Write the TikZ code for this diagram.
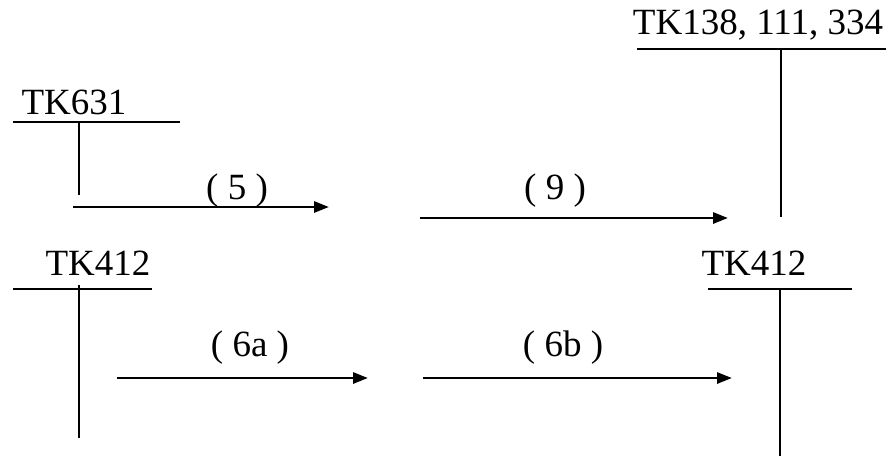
\documentclass[tikz,border=0pt]{standalone}
\usepackage{fontspec}
\setmainfont{Liberation Serif}
\usetikzlibrary{arrows.meta}
\begin{document}
\begin{tikzpicture}[x=1pt,y=-1pt,
  line/.style={line width=2.9pt},
  arr/.style={line width=2.9pt,-{Triangle[length=15pt,width=11pt]}},
  lbl/.style={inner sep=0pt,anchor=base,font=\fontsize{37}{40}\selectfont}]
\useasboundingbox (0,0) rectangle (892,456);
% labels
\node[lbl] (t631) at (74,114) {TK631};
\node[lbl] (t138) at (758,34) {TK138, 111, 334};
\node[lbl] (t412a) at (98,275) {TK412};
\node[lbl] (t412b) at (754,275) {TK412};
\node[lbl] (l5) at (237,199) {( 5 )};
\node[lbl] (l9) at (555,199) {( 9 )};
\node[lbl] (l6a) at (250,356) {( 6a )};
\node[lbl] (l6b) at (563,356) {( 6b )};
% TK631 bar
\coordinate (a1) at (13,122); \coordinate (a2) at (180,122);
\coordinate (a3) at (79,122); \coordinate (a4) at (79,195);
\draw[line] (a1) -- (a2); \draw[line] (a3) -- (a4);
% TK138 bar
\coordinate (b1) at (637,49); \coordinate (b2) at (886,49);
\coordinate (b3) at (781,49); \coordinate (b4) at (781,217);
\draw[line] (b1) -- (b2); \draw[line] (b3) -- (b4);
% TK412 left
\coordinate (c1) at (13,289); \coordinate (c2) at (152,289);
\coordinate (c3) at (79,285); \coordinate (c4) at (79,438);
\draw[line] (c1) -- (c2); \draw[line] (c3) -- (c4);
% TK412 right
\coordinate (d1) at (708,289); \coordinate (d2) at (852,289);
\coordinate (d3) at (780,289); \coordinate (d4) at (780,456);
\draw[line] (d1) -- (d2); \draw[line] (d3) -- (d4);
% arrows
\coordinate (e1) at (73,207); \coordinate (e2) at (329,207);
\coordinate (f1) at (420,218); \coordinate (f2) at (728,218);
\coordinate (g1) at (117,378); \coordinate (g2) at (368,378);
\coordinate (h1) at (423,378); \coordinate (h2) at (732,378);
\draw[arr] (e1) -- (e2);
\draw[arr] (f1) -- (f2);
\draw[arr] (g1) -- (g2);
\draw[arr] (h1) -- (h2);
\end{tikzpicture}
\end{document}
